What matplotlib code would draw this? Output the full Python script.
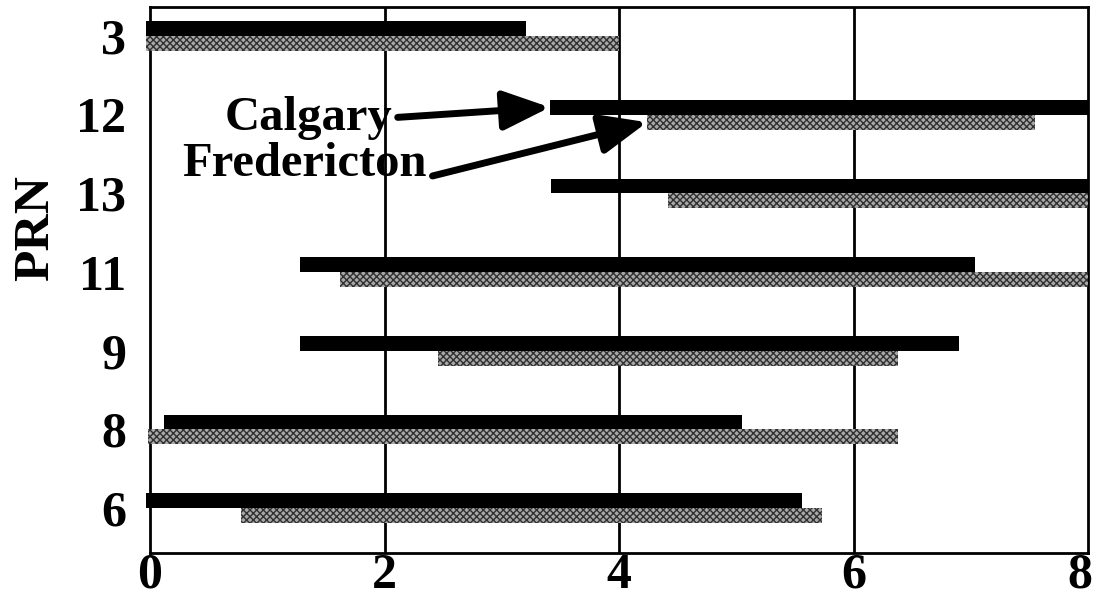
import numpy as np
import matplotlib.pyplot as plt
import matplotlib.transforms as mtransforms

# visibility windows per satellite (top to bottom as drawn)
prn = ["3", "12", "13", "11", "9", "8", "6"]
calgary_start = [-0.03, 3.41, 3.42, 1.28, 1.28, 0.12, -0.03]
calgary_end = [3.21, 8.0, 8.0, 7.04, 6.90, 5.05, 5.56]
fred_start = [-0.03, 4.24, 4.42, 1.62, 2.46, -0.02, 0.78]
fred_end = [4.0, 7.55, 8.0, 8.0, 6.38, 6.38, 5.73]

plt.rcParams['font.family'] = ['Liberation Serif', 'DejaVu Serif']
plt.rcParams['font.weight'] = 'bold'
plt.rcParams['hatch.linewidth'] = 1.0

fig = plt.figure(figsize=(10.94, 5.97), dpi=100)
ax = fig.add_axes([150/1094, 44/597, 938/1094, 546/597])

y = np.arange(len(prn))[::-1]
h = 0.19
cal_w = np.array(calgary_end) - np.array(calgary_start)
fred_w = np.array(fred_end) - np.array(fred_start)

ax.barh(y + h/2, cal_w, left=calgary_start, height=h, color='black',
        zorder=3, clip_on=False)
ax.barh(y - h/2, fred_w, left=fred_start, height=h, color='#a8a8a8',
        edgecolor='#303030', hatch='xxxxx', linewidth=0, zorder=3, clip_on=False)

ax.set_xlim(0, 8)
ax.set_ylim(-0.57, 6.37)
ax.set_xticks([0, 2, 4, 6, 8])
ax.set_yticks(y)
ax.set_yticklabels(prn)
ax.tick_params(length=0, labelsize=36)
ax.tick_params(axis='x', pad=0)
ax.tick_params(axis='y', pad=17)
for lbl in ax.get_xticklabels() + ax.get_yticklabels():
    lbl.set_fontweight('bold')
# keep the last x label inside the figure
last = ax.get_xticklabels()[-1]
last.set_transform(last.get_transform() +
                   mtransforms.ScaledTranslation(-8/100, 0, fig.dpi_scale_trans))
for sp in ax.spines.values():
    sp.set_linewidth(2)
for gx in [2, 4, 6]:
    ax.axvline(gx, color='black', lw=2, zorder=1)

ax.set_ylabel("PRN", fontsize=37, fontweight='bold')
ax.yaxis.set_label_coords(-0.097, 0.595)

arrow_cal = dict(arrowstyle='-|>,head_length=0.95,head_width=0.4', color='black',
                 lw=5, mutation_scale=30, shrinkA=2, shrinkB=0, relpos=(1, 0.5))
arrow_fred = dict(arrow_cal, relpos=(1, 0.2))
ax.annotate("Calgary", xy=(calgary_start[1], y[1] + h/2),
            xytext=(1.35, 4.81), fontsize=35, fontweight='bold',
            ha='center', va='baseline', arrowprops=arrow_cal, zorder=4)
ax.annotate("Fredericton", xy=(fred_start[1], y[1] - h/2),
            xytext=(1.32, 4.22), fontsize=35, fontweight='bold',
            ha='center', va='baseline', arrowprops=arrow_fred, zorder=4)

fig.savefig("out.png", dpi=100)
